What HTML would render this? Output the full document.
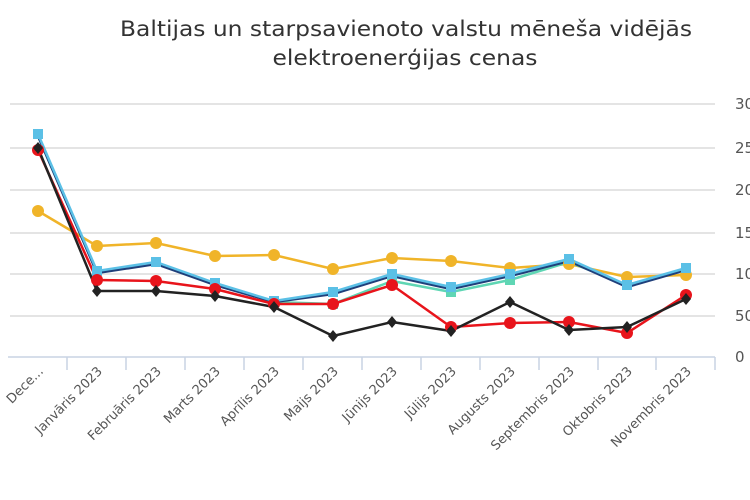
<!DOCTYPE html>
<html><head><meta charset="utf-8"><style>body{margin:0;background:#fff}svg{display:block}</style></head><body>
<svg width="750" height="500" xmlns="http://www.w3.org/2000/svg" font-family="DejaVu Sans, Liberation Sans, sans-serif">
<text x="406" y="36" font-size="21" fill="#333" text-anchor="middle" textLength="572" lengthAdjust="spacingAndGlyphs">Baltijas un starpsavienoto valstu mēneša vidējās</text>
<text x="405" y="65" font-size="21" fill="#333" text-anchor="middle" textLength="265" lengthAdjust="spacingAndGlyphs">elektroenerģijas cenas</text>
<g stroke="#dcdcdc" stroke-width="1.5">
<line x1="10" x2="715" y1="104" y2="104"/><line x1="10" x2="715" y1="148" y2="148"/><line x1="10" x2="715" y1="190" y2="190"/><line x1="10" x2="715" y1="233" y2="233"/><line x1="10" x2="715" y1="274" y2="274"/><line x1="10" x2="715" y1="316" y2="316"/>
</g>
<g stroke="#c8d3e3" stroke-width="1.5"><line x1="8" x2="715" y1="357" y2="357"/>
<line x1="67" x2="67" y1="357" y2="370"/><line x1="126" x2="126" y1="357" y2="370"/><line x1="185" x2="185" y1="357" y2="370"/><line x1="244" x2="244" y1="357" y2="370"/><line x1="303" x2="303" y1="357" y2="370"/><line x1="362" x2="362" y1="357" y2="370"/><line x1="421" x2="421" y1="357" y2="370"/><line x1="480" x2="480" y1="357" y2="370"/><line x1="539" x2="539" y1="357" y2="370"/><line x1="598" x2="598" y1="357" y2="370"/><line x1="656" x2="656" y1="357" y2="370"/><line x1="715" x2="715" y1="357" y2="370"/></g>
<g font-size="15" fill="#555"><text x="735" y="109">300</text><text x="735" y="153">250</text><text x="735" y="195">200</text><text x="735" y="238">150</text><text x="735" y="279">100</text><text x="735" y="321">50</text><text x="735" y="362">0</text></g>
<g font-size="13" fill="#555" text-anchor="end">
<text transform="translate(44,372) rotate(-45)">Dece...</text>
<text transform="translate(103,372) rotate(-45)">Janvāris 2023</text>
<text transform="translate(162,372) rotate(-45)">Februāris 2023</text>
<text transform="translate(221,372) rotate(-45)">Marts 2023</text>
<text transform="translate(280,372) rotate(-45)">Aprīlis 2023</text>
<text transform="translate(339,372) rotate(-45)">Maijs 2023</text>
<text transform="translate(398,372) rotate(-45)">Jūnijs 2023</text>
<text transform="translate(457,372) rotate(-45)">Jūlijs 2023</text>
<text transform="translate(516,372) rotate(-45)">Augusts 2023</text>
<text transform="translate(575,372) rotate(-45)">Septembris 2023</text>
<text transform="translate(633,372) rotate(-45)">Oktobris 2023</text>
<text transform="translate(692,372) rotate(-45)">Novembris 2023</text>
</g>
<g fill="none" stroke-width="2.5" stroke-linejoin="round">
<polyline stroke="#f0b429" points="38,211 97,246 156,243 215,256 274,255 333,269 392,258 451,261 510,268 569,264 627,277 686,275"/>
<polyline stroke="#5fd6b4" points="38,136 97,272 156,263 215,284 274,302 333,304 392,281 451,292 510,280 569,262 627,285 686,269"/>
<polyline stroke="#1f3f7a" points="38,136 97,273 156,264 215,285 274,302 333,294 392,276 451,289 510,276 569,261 627,287 686,270"/>
<polyline stroke="#5bc0e6" points="38,134 97,271 156,262 215,283 274,301 333,292 392,274 451,287 510,274 569,259 627,285 686,268"/>
<polyline stroke="#e8141b" points="38,150 97,280 156,281 215,289 274,304 333,304 392,285 451,327 510,323 569,322 627,333 686,295"/>
<polyline stroke="#222" points="38,148 97,291 156,291 215,296 274,307 333,336 392,322 451,331 510,302 569,330 627,327 686,299"/>
</g>
<g fill="#f0b429"><circle cx="38" cy="211" r="6"/><circle cx="97" cy="246" r="6"/><circle cx="156" cy="243" r="6"/><circle cx="215" cy="256" r="6"/><circle cx="274" cy="255" r="6"/><circle cx="333" cy="269" r="6"/><circle cx="392" cy="258" r="6"/><circle cx="451" cy="261" r="6"/><circle cx="510" cy="268" r="6"/><circle cx="569" cy="264" r="6"/><circle cx="627" cy="277" r="6"/><circle cx="686" cy="275" r="6"/></g>
<g fill="#5fd6b4"><rect x="328" y="299" width="10" height="10"/><rect x="387" y="276" width="10" height="10"/><rect x="446" y="287" width="10" height="10"/><rect x="505" y="275" width="10" height="10"/></g>
<g fill="#5bc0e6"><rect x="33" y="129" width="10" height="10"/><rect x="92" y="266" width="10" height="10"/><rect x="151" y="257" width="10" height="10"/><rect x="210" y="278" width="10" height="10"/><rect x="269" y="296" width="10" height="10"/><rect x="328" y="287" width="10" height="10"/><rect x="387" y="269" width="10" height="10"/><rect x="446" y="282" width="10" height="10"/><rect x="505" y="269" width="10" height="10"/><rect x="564" y="254" width="10" height="10"/><rect x="622" y="280" width="10" height="10"/><rect x="681" y="263" width="10" height="10"/></g>
<g fill="#e8141b"><circle cx="38" cy="150" r="6"/><circle cx="97" cy="280" r="6"/><circle cx="156" cy="281" r="6"/><circle cx="215" cy="289" r="6"/><circle cx="274" cy="304" r="6"/><circle cx="333" cy="304" r="6"/><circle cx="392" cy="285" r="6"/><circle cx="451" cy="327" r="6"/><circle cx="510" cy="323" r="6"/><circle cx="569" cy="322" r="6"/><circle cx="627" cy="333" r="6"/><circle cx="686" cy="295" r="6"/></g>
<g fill="#222"><path d="M38 142l5 6-5 6-5-6z"/><path d="M97 285l5 6-5 6-5-6z"/><path d="M156 285l5 6-5 6-5-6z"/><path d="M215 290l5 6-5 6-5-6z"/><path d="M274 301l5 6-5 6-5-6z"/><path d="M333 330l5 6-5 6-5-6z"/><path d="M392 316l5 6-5 6-5-6z"/><path d="M451 325l5 6-5 6-5-6z"/><path d="M510 296l5 6-5 6-5-6z"/><path d="M569 324l5 6-5 6-5-6z"/><path d="M627 321l5 6-5 6-5-6z"/><path d="M686 293l5 6-5 6-5-6z"/></g>
</svg>
</body></html>
